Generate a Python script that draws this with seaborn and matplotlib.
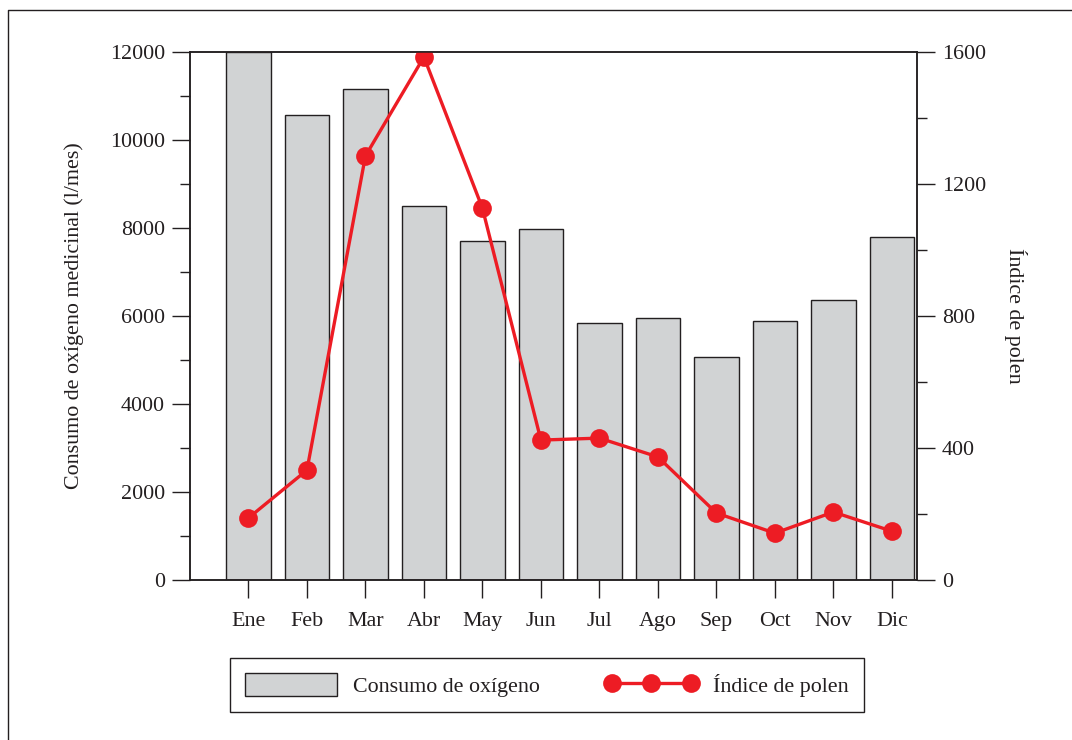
"""consumo de oxigeno medicinal vs indice de polen, barras + linea con doble eje."""

import numpy as np
import pandas as pd
import matplotlib.pyplot as plt
import seaborn as sns
from matplotlib.ticker import MultipleLocator
from matplotlib.lines import Line2D
from matplotlib.patches import Patch

# datos
meses = ['Ene', 'Feb', 'Mar', 'Abr', 'May', 'Jun', 'Jul', 'Ago', 'Sep', 'Oct', 'Nov', 'Dic']
oxigeno = [12000, 10570, 11160, 8500, 7700, 7980, 5840, 5950, 5070, 5890, 6360, 7800]
polen = [188, 333, 1285, 1585, 1127, 424, 430, 373, 203, 142, 206, 148]

df = pd.DataFrame({'mes': meses, 'oxigeno': oxigeno, 'polen': polen})

gris = '#d1d3d4'
rojo = '#ed1c24'
negro = '#231f20'
fs = 15.8

sns.set_style('ticks')
plt.rcParams['font.family'] = ['Liberation Serif', 'DejaVu Serif']
plt.rcParams['text.color'] = negro
plt.rcParams['axes.labelcolor'] = negro
plt.rcParams['xtick.color'] = negro
plt.rcParams['ytick.color'] = negro

fig = plt.figure(figsize=(10.72, 7.4), dpi=100)
ax = fig.add_axes([0.1772, 0.2162, 0.6782, 0.7135])

sns.barplot(data=df, x='mes', y='oxigeno', color=gris, saturation=1,
            edgecolor=negro, linewidth=1, width=0.76, ax=ax)
ax.set_xlim(-1, 11.43)
ax.set_ylim(0, 12000)
ax.yaxis.set_major_locator(MultipleLocator(2000))
ax.yaxis.set_minor_locator(MultipleLocator(1000))
ax.tick_params(axis='both', which='major', length=13, width=1, direction='out',
               labelsize=fs, pad=5)
ax.tick_params(axis='y', which='minor', length=7, width=1, direction='out')
ax.tick_params(axis='x', which='major', pad=10)
ax.set_xlabel('')
ax.set_ylabel('Consumo de oxígeno medicinal (l/mes)', fontsize=fs)
ax.yaxis.set_label_coords(-0.1455, 0.5)
for s in ax.spines.values():
    s.set_visible(True)
    s.set_linewidth(1.1)
    s.set_color(negro)

ax2 = ax.twinx()
sns.lineplot(x=df.index, y=df['polen'], color=rojo, linewidth=2.4, marker='o',
             markersize=13.5, markeredgewidth=0, ax=ax2)
ax2.set_ylim(0, 1600)
ax2.yaxis.set_major_locator(MultipleLocator(400))
ax2.yaxis.set_minor_locator(MultipleLocator(200))
ax2.tick_params(axis='y', which='major', length=13, width=1, direction='out',
                labelsize=fs, pad=5)
ax2.tick_params(axis='y', which='minor', length=7, width=1, direction='out')
ax2.set_ylabel('Índice de polen', fontsize=fs, rotation=270)
ax2.yaxis.set_label_coords(1.151, 0.5)
for s in ax2.spines.values():
    s.set_linewidth(1.1)
    s.set_color(negro)

# leyenda abajo
handles = [Patch(facecolor=gris, edgecolor=negro, linewidth=1),
           Line2D([], [], color=rojo, linewidth=2.4, marker='o', markersize=13.5,
                  markeredgewidth=0)]
leg = fig.legend(handles, ['Consumo de oxígeno', 'Índice de polen'],
                 loc='center', bbox_to_anchor=(0.510, 0.0743), ncol=2,
                 fontsize=fs, numpoints=3, handlelength=4.2, handleheight=1.2,
                 handletextpad=0.7, columnspacing=3.0, borderpad=0.7,
                 fancybox=False, framealpha=1, edgecolor=negro)
leg.get_frame().set_linewidth(1)

# marco exterior (solo izquierda y arriba visibles)
fig.add_artist(Line2D([8 / 1072, 8 / 1072, 1], [0, 1 - 10 / 740, 1 - 10 / 740],
                      transform=fig.transFigure, color=negro, linewidth=1))

fig.savefig('out.png', dpi=100)
